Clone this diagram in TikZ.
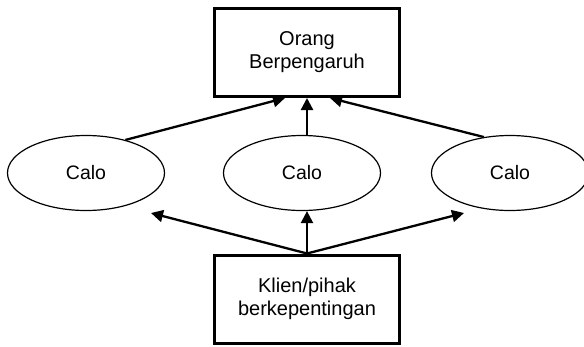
\documentclass[tikz,border=0pt]{standalone}
\usepackage{fontspec}
\setmainfont{Liberation Sans}
\usetikzlibrary{arrows.meta,shapes.geometric}
\begin{document}
\begin{tikzpicture}[x=1pt,y=-1pt,
  boxnode/.style={draw, line width=3pt, minimum width=185pt, minimum height=88pt, align=center, inner sep=0pt, font=\fontsize{20}{23}\selectfont},
  calonode/.style={draw, ellipse, line width=1.2pt, minimum width=157pt, minimum height=75pt, inner sep=0pt, font=\fontsize{19.5}{23}\selectfont},
  arr/.style={line width=2.3pt, -{Triangle[length=12pt,width=12pt]}}]
\useasboundingbox (0,0) rectangle (584,346);
\node[boxnode] (top) at (307,52.5) {Orang\\Berpengaruh};
\node[boxnode] (bot) at (307,299) {Klien/pihak\\berkepentingan};
\node[calonode] (c1) at (86,173) {Calo};
\node[calonode] (c2) at (302,173) {Calo};
\node[calonode] (c3) at (510,173) {Calo};
\coordinate (t1) at (151,213);
\coordinate (t3) at (464,213);
\draw[arr] (c1.40) -- ([xshift=-22pt]top.south);
\draw[arr] (top.south |- c2.north) -- (top.south);
\draw[arr] (c3.126) -- ([xshift=23pt]top.south);
\draw[arr] (bot.north) -- (t1);
\draw[arr] (bot.north) -- (bot.north |- c2.south);
\draw[arr] (bot.north) -- (t3);
\end{tikzpicture}
\end{document}
